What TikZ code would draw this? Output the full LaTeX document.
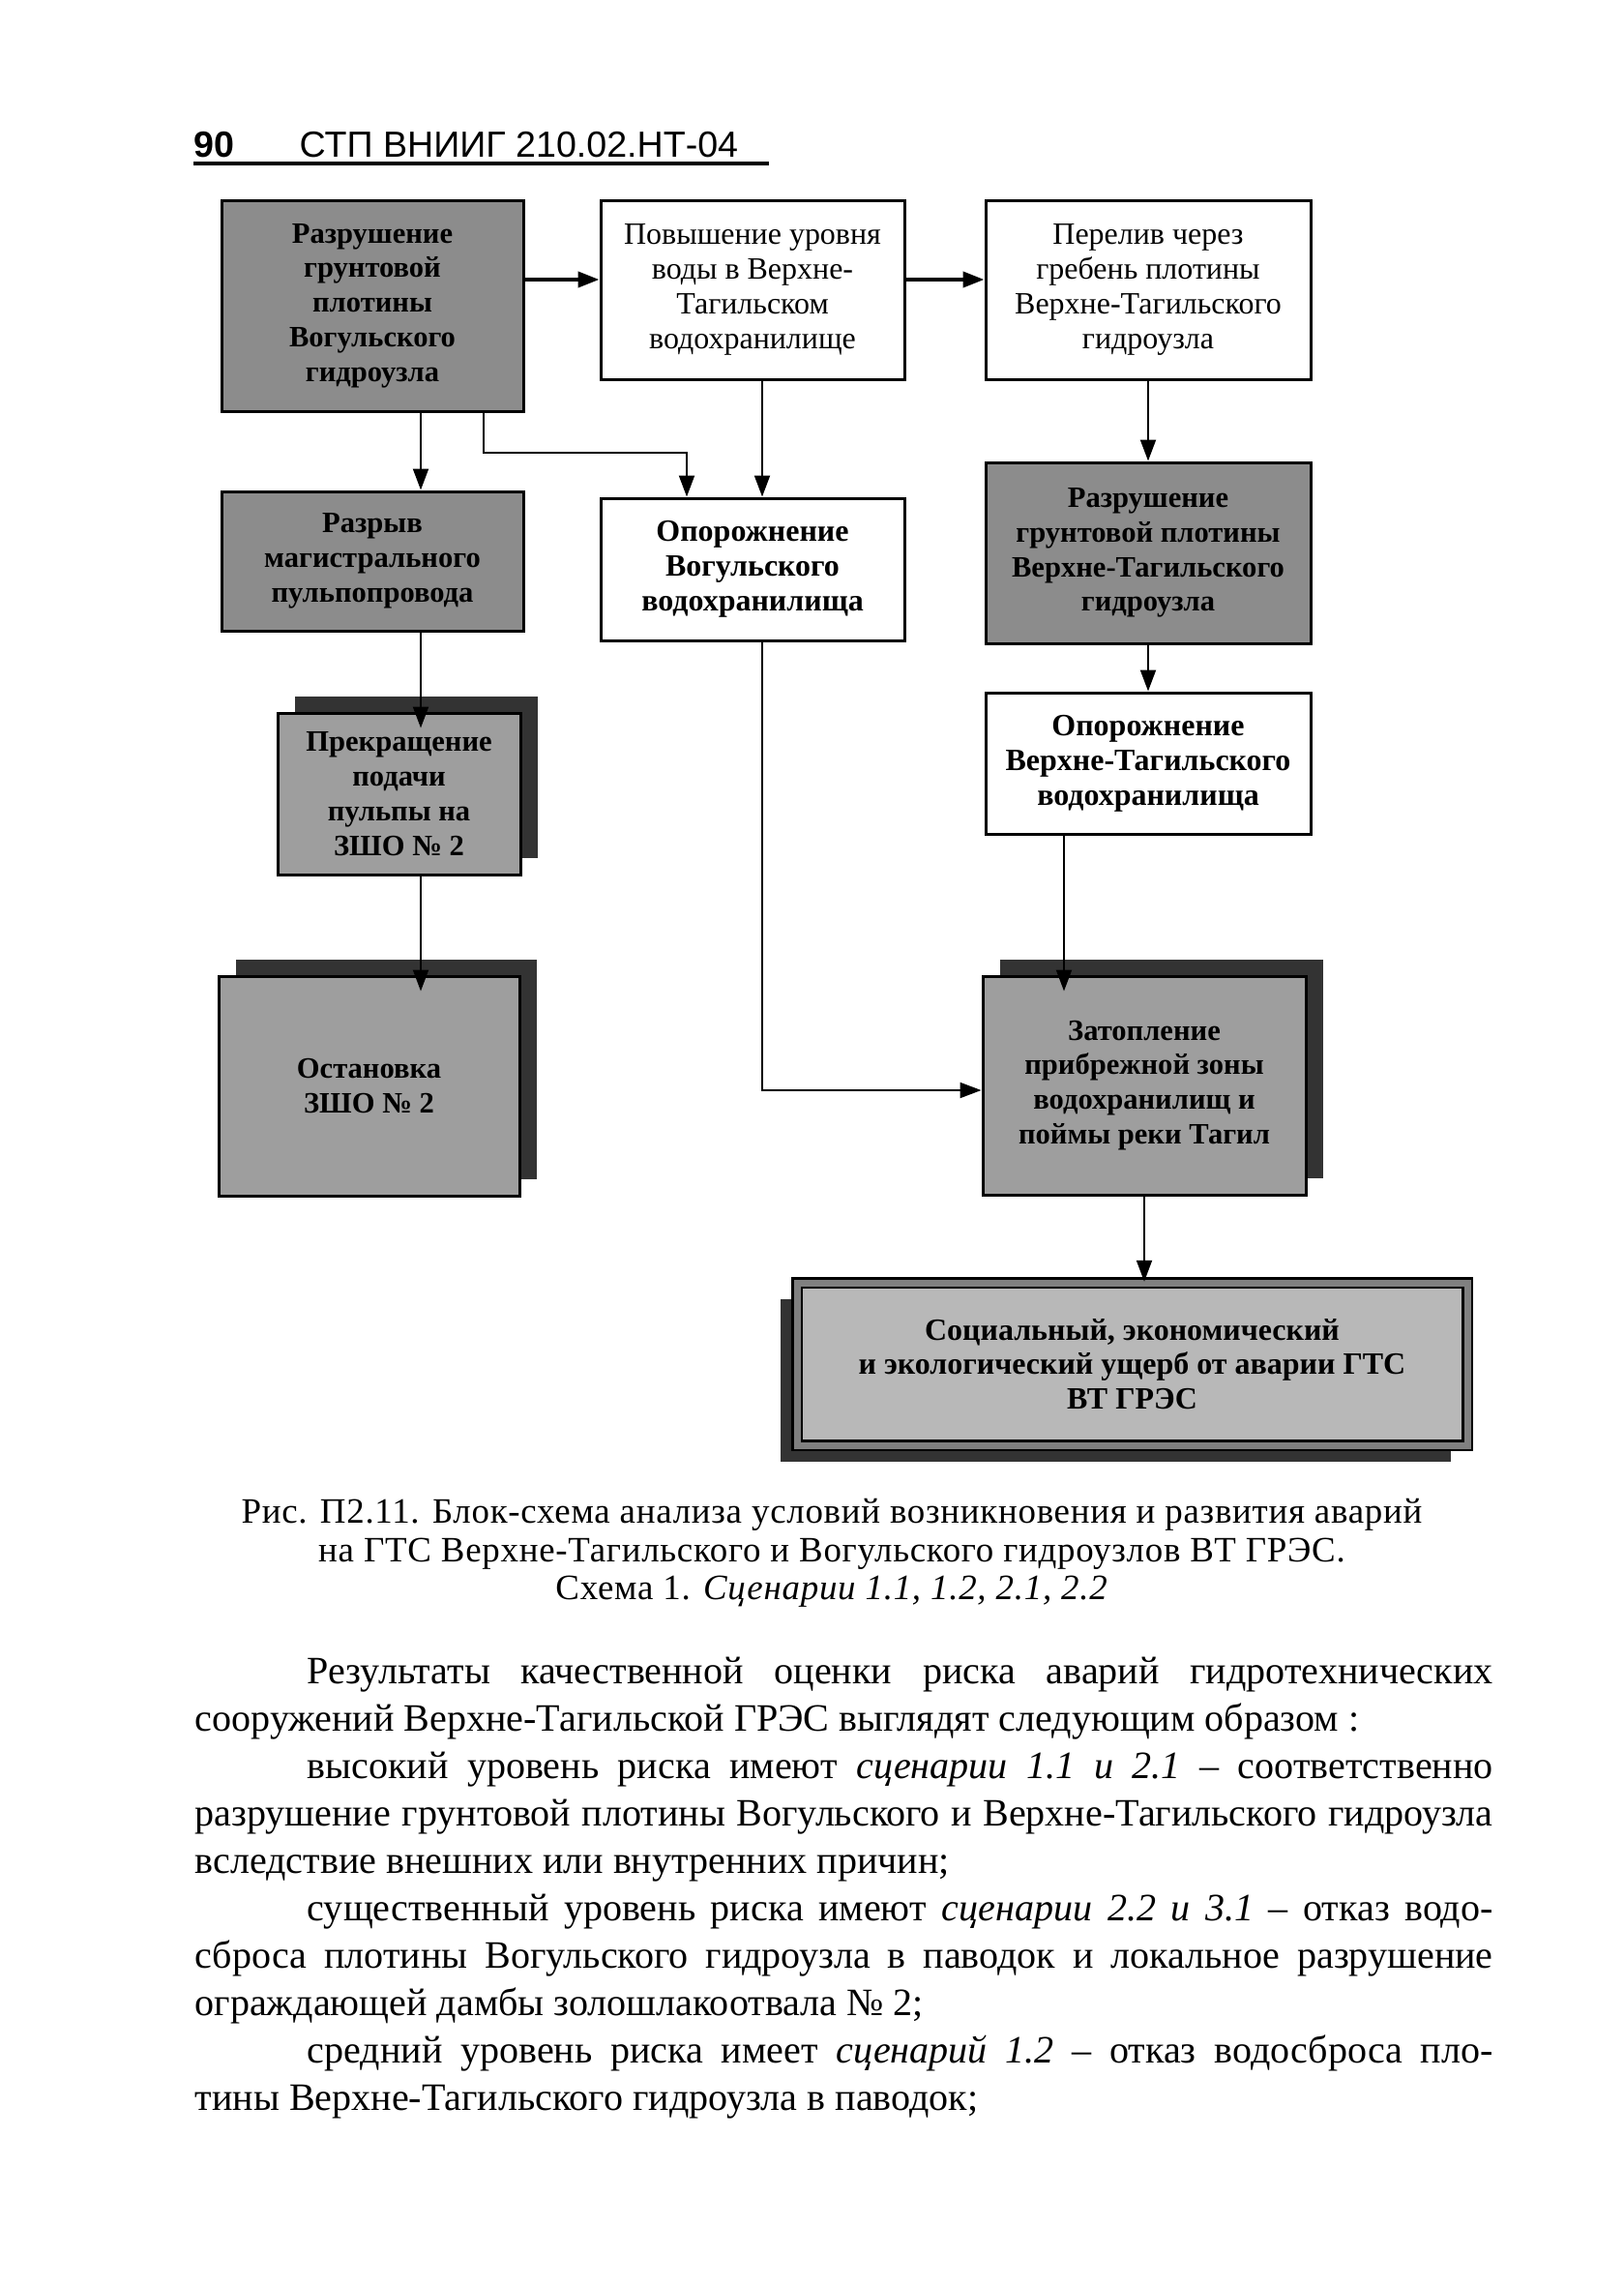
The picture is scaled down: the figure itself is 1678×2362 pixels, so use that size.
\documentclass[tikz,border=0pt]{standalone}
\usepackage{fontspec}
\setmainfont{Liberation Serif}
\newfontfamily\headfont{Liberation Sans}
\newfontfamily\capfont[LetterSpace=2]{Liberation Serif}
\usetikzlibrary{arrows.meta,shadows}

\begin{document}
\begin{tikzpicture}[x=0.1mm, y=-0.1mm]
	\tikzstyle{Plain}	= [rectangle, draw, line width=0.3mm, fill=white, align=center, inner sep=0pt, font=\fontsize{9.1}{10.2}\selectfont]
	\tikzstyle{Bold}	= [font=\bfseries\fontsize{9.1}{10.2}\selectfont]
	\tikzstyle{Shaded}	= [Plain, fill=black!45, font=\bfseries\fontsize{8.7}{10.2}\selectfont]
	\tikzstyle{Lifted}	= [Shaded, fill=black!38, drop shadow={shadow xshift=1.8mm, shadow yshift=1.7mm, opacity=1, fill=black!80}]
	\tikzstyle{Framed}	= [Shaded, fill=black!28, line width=0.25mm, double=black!50, double distance=0.7mm, drop shadow={shadow xshift=-1.7mm, shadow yshift=-1.7mm, opacity=1, fill=black!80}]
	\tikzstyle{Link}	= [line width=0.2mm, -{Triangle[length=2.2mm, width=1.6mm]}]
	\tikzstyle{MainLink}	= [Link, line width=0.4mm]

	\useasboundingbox (0, 0) rectangle (1678, 2362);

	% page head
	\node (pageno) at (200, 163) [anchor=base west, inner sep=0pt, font=\headfont\bfseries\fontsize{10.7}{12}\selectfont] {90};
	\node (pagehd) at (309, 163) [anchor=base west, inner sep=0pt, font=\headfont\fontsize{10.7}{12}\selectfont] {СТП ВНИИГ 210.02.НТ-04};
	\draw [line width=0.4mm] (200, 169) -- (795, 169);

	% boxes
	\node (dam1) at (385, 316) [Shaded, minimum width=31.2mm, minimum height=21.8mm] {Разрушение\\грунтовой\\плотины\\Вогульского\\гидроузла};
	\node (rise) at (778, 299.5) [Plain, minimum width=31.4mm, minimum height=18.5mm] {Повышение уровня\\воды в Верхне-\\Тагильском\\водохранилище};
	\node (spill) at (1187, 299.5) [Plain, minimum width=33.6mm, minimum height=18.5mm] {Перелив через\\гребень плотины\\Верхне-Тагильского\\гидроузла};
	\node (pipe) at (385, 580) [Shaded, minimum width=31.2mm, minimum height=14.4mm] {Разрыв\\магистрального\\пульпопровода};
	\node (empty1) at (778, 588.5) [Plain, Bold, minimum width=31.4mm, minimum height=14.7mm] {Опорожнение\\Вогульского\\водохранилища};
	\node (dam2) at (1187, 571.5) [Shaded, minimum width=33.6mm, minimum height=18.7mm] {Разрушение\\грунтовой плотины\\Верхне-Тагильского\\гидроузла};
	\node (empty2) at (1187, 789) [Plain, Bold, minimum width=33.6mm, minimum height=14.6mm] {Опорожнение\\Верхне-Тагильского\\водохранилища};
	\node (pulp) at (412.5, 820.5) [Lifted, minimum width=25.1mm, minimum height=16.7mm] {Прекращение\\подачи\\пульпы на\\ЗШО №~2};
	\node (stop) at (381.5, 1122.5) [Lifted, minimum width=31.1mm, minimum height=22.7mm] {Остановка\\ЗШО №~2};
	\node (flood) at (1183, 1122) [Lifted, minimum width=33.4mm, minimum height=22.6mm] {Затопление\\прибрежной зоны\\водохранилищ и\\поймы реки Тагил};
	\node (loss) at (1170.5, 1410) [Framed, minimum width=69.3mm, minimum height=16.8mm, font=\bfseries\fontsize{9.1}{10.2}\selectfont] {Социальный, экономический\\и экологический ущерб от аварии ГТС\\ВТ ГРЭС};

	% bends and columns of the links
	\coordinate (rowT) at (0, 289);
	\coordinate (colL) at (435, 0);
	\coordinate (bendAE1) at (500, 468);
	\coordinate (bendAE2) at (710, 468);
	\coordinate (colBE) at (788, 0);
	\coordinate (bendEJ) at (788, 1127);
	\coordinate (colGJ) at (1100, 0);

	\draw [MainLink] (dam1.east |- rowT) -- (rise.west |- rowT);
	\draw [MainLink] (rise.east |- rowT) -- (spill.west |- rowT);
	\draw [Link] (dam1.south -| colL) -- (pipe.north -| colL);
	\draw [Link] (dam1.south -| bendAE1) -- (bendAE1) -- (bendAE2) -- (empty1.north -| bendAE2);
	\draw [Link] (rise.south -| colBE) -- (empty1.north -| colBE);
	\draw [Link] (spill.south) -- (dam2.north);
	\draw [Link] (dam2.south) -- (empty2.north);
	\draw [Link, shorten >=-1.7mm] (pipe.south -| colL) -- (pulp.north -| colL);
	\draw [Link, shorten >=-1.7mm] (pulp.south -| colL) -- (stop.north -| colL);
	\draw [Link, shorten >=-1.7mm] (empty2.south -| colGJ) -- (flood.north -| colGJ);
	\draw [Link] (empty1.south -| bendEJ) -- (bendEJ) -- (flood.west |- bendEJ);
	\draw [Link] (flood.south) -- (flood.south |- loss.north);

	% caption
	\node (caption) at (860, 1549) [anchor=north, align=center, inner sep=0pt, font=\capfont\fontsize{10.5}{11.24}\selectfont]
		{Рис. П2.11. Блок-схема анализа условий возникновения и развития аварий\\
		 на ГТС Верхне-Тагильского и Вогульского гидроузлов ВТ ГРЭС.\\
		 Схема 1. \textit{Сценарии 1.1, 1.2, 2.1, 2.2}};

	% running text
	\node (body) at (201, 1712) [anchor=north west, text width=134.2mm, inner sep=0pt, align=justify, font=\fontsize{11.4}{13.94}\selectfont]
		{\hyphenpenalty=10000 \exhyphenpenalty=10000 \tolerance=9999 \parindent=0pt
		 \hspace*{11.6mm}Результаты качественной оценки риска аварий гидротехнических\linebreak
		 сооружений Верхне-Тагильской ГРЭС выглядят следующим образом :\par
		 \hspace*{11.6mm}высокий уровень риска имеют \textit{сценарии 1.1 и 2.1} – соответственно\linebreak
		 разрушение грунтовой плотины Вогульского и Верхне-Тагильского гидроузла\linebreak
		 вследствие внешних или внутренних причин;\par
		 \hspace*{11.6mm}существенный уровень риска имеют \textit{сценарии 2.2 и 3.1} – отказ водо-\linebreak
		 сброса плотины Вогульского гидроузла в паводок и локальное разрушение\linebreak
		 ограждающей дамбы золошлакоотвала №~2;\par
		 \hspace*{11.6mm}средний уровень риска имеет \textit{сценарий 1.2} – отказ водосброса пло-\linebreak
		 тины Верхне-Тагильского гидроузла в паводок;\par};
\end{tikzpicture}
\end{document}
